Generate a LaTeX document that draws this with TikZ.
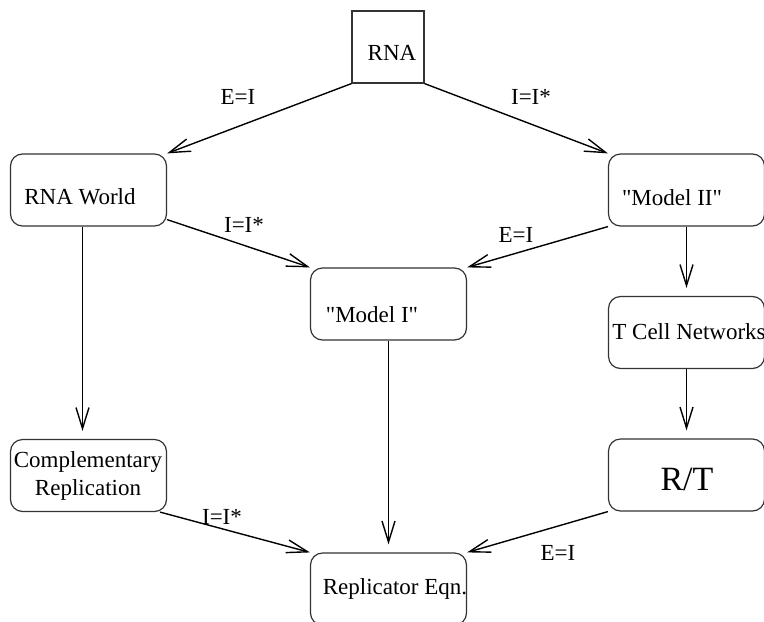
\documentclass[tikz,border=0pt]{standalone}
\usepackage{fontspec}
\setmainfont{Liberation Serif}
\usetikzlibrary{arrows.meta, positioning}

\begin{document}
\begin{tikzpicture}[x=0.5pt, y=-0.5pt,
    box/.style={draw=black!80, line width=0.6pt, rounded corners=6pt, inner sep=0pt,
        minimum width=78pt, minimum height=36pt},
    txt/.style={inner sep=0pt, font=\fontsize{11.5}{14}\selectfont},
    lbl/.style={inner sep=0pt, font=\fontsize{11.5}{14}\selectfont},
    arr/.style={-{Straight Barb[length=10.5pt,width=6.5pt]}, line width=0.7pt}]
\clip (0,0) rectangle (764,621);

% boxes
\node[box, rounded corners=0pt, minimum width=36pt] (rna) at (388,47) {};
\node[box] (rnaw) at (88.5,190) {};
\node[box] (mtwo) at (686.5,190) {};
\node[box] (mone) at (388.5,304) {};
\node[box] (tcell) at (686.5,332.5) {};
\node[box] (comp) at (88.5,475.5) {};
\node[box] (rt) at (686.5,475) {};
\node[box] (rep) at (388.5,589) {};

% texts
\node[txt] (rna-t) at (392,53) {RNA};
\node[txt] (rnaw-t) at (80,197) {RNA World};
\node[txt] (mtwo-t) at (672,198) {\textquotedbl Model II\textquotedbl};
\node[txt] (mone-t) at (372,315) {\textquotedbl Model I\textquotedbl};
\node[txt] (tcell-t) at (689,332) {T Cell Networks};
\node[txt, align=center] (comp-t) at (88,476) {Complementary\\Replication};
\node[txt, font=\fontsize{17}{20}\selectfont] (rt-t) at (687,479) {R/T};
\node[txt] (rep-t) at (395,589) {Replicator Eqn.};

% connectors
\path[arr]
(rna.south west) edge (rnaw.north east)
(rna.south east) edge (mtwo.north west)
([yshift=3.5pt]rnaw.south east) edge (mone.north west)
(mtwo.south west) edge (mone.north east)
([xshift=-3pt]rnaw.south) edge[shorten >=4pt] ([xshift=-3pt]comp.north)
(mtwo.south) edge[shorten >=4pt] (tcell.north)
(tcell.south) edge[shorten >=4pt] (rt.north)
(mone.south) edge[shorten >=4pt] (rep.north)
([xshift=-3.5pt]comp.south east) edge (rep.north west)
(rt.south west) edge (rep.north east);

% edge labels
\node[lbl] (l-ei-a) at (238,97) {E=I};
\node[lbl] (l-ii-a) at (531,97) {I=I*};
\node[lbl] (l-ii-b) at (244,225) {I=I*};
\node[lbl] (l-ei-b) at (516,235) {E=I};
\node[lbl] (l-ii-c) at (222,517) {I=I*};
\node[lbl] (l-ei-c) at (558,553) {E=I};
\end{tikzpicture}
\end{document}
